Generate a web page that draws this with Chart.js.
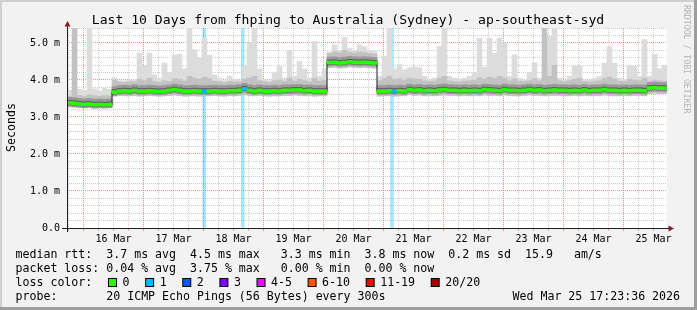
<!DOCTYPE html>
<html>
<head>
<meta charset="utf-8">
<script src="https://cdn.jsdelivr.net/npm/chart.js@4.4.1/dist/chart.umd.min.js"></script>
<style>
  html, body { margin: 0; padding: 0; background: #f2f2f2; }
  canvas { display: block; }
</style>
</head>
<body>
<canvas id="smoke" width="697" height="310"></canvas>
<script>
// --- data: 10 days, one bucket every 2 hours (ms) --- //
const startHour = 17 + 23 / 60 + 36 / 3600; // Sun Mar 15 17:23:36
const stepH = 2;
const yMax = 5.405;

const median = [
  3.38, 3.37, 3.35, 3.34, 3.35, 3.33, 3.34, 3.33, 3.34,
  3.67, 3.70, 3.71, 3.70, 3.72, 3.70, 3.70, 3.71, 3.70, 3.69,
  3.70, 3.72, 3.74, 3.72, 3.70, 3.70, 3.71, 3.70, 3.70, 3.70,
  3.71, 3.70, 3.70, 3.71, 3.71, 3.72, 3.76, 3.72, 3.70, 3.72,
  3.70, 3.70, 3.71, 3.70, 3.72, 3.72, 3.73, 3.73, 3.71, 3.72,
  3.70, 3.70, 3.70,
  4.47, 4.48, 4.46, 4.47, 4.49, 4.48, 4.47, 4.48, 4.47, 4.46,
  3.70, 3.70, 3.71, 3.70, 3.71, 3.70, 3.74, 3.72, 3.73, 3.71,
  3.72, 3.71, 3.73, 3.74, 3.72, 3.72, 3.71, 3.72, 3.71, 3.72,
  3.71, 3.74, 3.73, 3.72, 3.71, 3.74, 3.72, 3.72, 3.71, 3.72,
  3.74, 3.72, 3.73, 3.71, 3.72, 3.73,
  3.72, 3.72, 3.71, 3.72, 3.71, 3.73, 3.71, 3.72, 3.72, 3.74,
  3.72, 3.72, 3.71, 3.72, 3.71, 3.72, 3.72, 3.71,
  3.78, 3.79, 3.78, 3.78
];

const smokeLow = [
  3.27, 3.26, 3.27, 3.25, 3.26, 3.24, 3.25, 3.25, 3.26,
  3.56, 3.58, 3.57, 3.57, 3.58, 3.56, 3.57, 3.58, 3.57, 3.56,
  3.57, 3.58, 3.59, 3.58, 3.56, 3.57, 3.57, 3.56, 3.57, 3.57,
  3.58, 3.57, 3.56, 3.58, 3.57, 3.58, 3.60, 3.58, 3.57, 3.58,
  3.57, 3.56, 3.57, 3.57, 3.58, 3.58, 3.59, 3.58, 3.57, 3.58,
  3.56, 3.57, 3.57,
  4.33, 4.34, 4.32, 4.33, 4.35, 4.34, 4.33, 4.34, 4.33, 4.32,
  3.56, 3.57, 3.57, 3.56, 3.57, 3.57, 3.60, 3.58, 3.59, 3.57,
  3.58, 3.57, 3.58, 3.59, 3.58, 3.58, 3.57, 3.58, 3.57, 3.58,
  3.57, 3.59, 3.58, 3.58, 3.57, 3.59, 3.58, 3.57, 3.57, 3.58,
  3.59, 3.58, 3.58, 3.57, 3.58, 3.58,
  3.58, 3.57, 3.57, 3.58, 3.57, 3.58, 3.57, 3.58, 3.57, 3.59,
  3.58, 3.57, 3.57, 3.58, 3.57, 3.58, 3.58, 3.57,
  3.63, 3.64, 3.63, 3.63
];

const smokeHigh = [
  3.56, 5.40, 3.58, 3.55, 3.60, 3.57, 3.56, 3.58, 3.57,
  4.00, 3.95, 3.93, 3.96, 3.95, 4.02, 3.98, 4.05, 3.96, 3.94,
  3.98, 3.96, 4.04, 4.02, 3.97, 4.10, 4.05, 4.02, 4.08, 4.04,
  3.97, 3.95, 3.94, 3.96, 3.95, 3.95, 4.02, 4.06, 4.10, 3.98,
  3.95, 3.94, 3.98, 4.00, 3.96, 4.05, 3.97, 4.02, 3.98, 3.95,
  4.05, 3.97, 4.00,
  4.72, 4.76, 4.74, 4.80, 4.75, 4.73, 4.76, 4.74, 4.72, 4.70,
  3.98, 4.05, 4.10, 4.02, 4.04, 4.00, 4.05, 4.03, 4.02, 3.98,
  3.96, 3.97, 4.05, 4.10, 3.98, 3.96, 3.95, 3.97, 3.98, 4.00,
  4.06, 4.02, 4.08, 4.04, 4.10, 4.05, 3.98, 4.03, 3.97, 3.96,
  3.98, 4.04, 3.98, 5.40, 4.10, 4.40,
  3.98, 3.96, 3.98, 4.02, 4.04, 3.96, 3.95, 3.97, 3.98, 4.04,
  4.08, 4.02, 3.97, 3.96, 4.02, 4.00, 3.98, 4.05,
  3.97, 4.00, 3.98, 3.97
];

const smokeMax = [
  3.72, 5.40, 3.75, 3.72, 5.40, 3.76, 3.70, 3.78, 3.75,
  4.06, 3.98, 3.98, 4.00, 4.02, 4.73, 4.40, 4.73, 4.14, 4.05,
  4.46, 4.20, 4.67, 4.70, 4.30, 5.40, 4.82, 4.60, 5.13, 4.67,
  4.14, 4.05, 3.98, 4.10, 4.02, 4.00, 4.37, 5.00, 5.40, 4.30,
  4.02, 3.98, 4.20, 4.37, 4.05, 4.80, 4.10, 4.50, 4.30, 4.05,
  5.04, 4.10, 4.32,
  4.75, 4.95, 4.80, 5.15, 4.85, 4.80, 4.95, 4.90, 4.80, 4.78,
  4.10, 4.64, 5.40, 4.30, 4.42, 4.28, 4.33, 4.35, 4.33, 4.10,
  4.00, 4.05, 4.91, 5.40, 4.10, 4.05, 4.02, 4.05, 4.10, 4.20,
  5.13, 4.35, 5.13, 4.72, 5.13, 5.00, 4.10, 4.68, 4.05, 4.02,
  4.20, 4.47, 4.05, 5.40, 5.18, 5.40,
  4.05, 4.00, 4.10, 4.37, 4.40, 4.02, 4.00, 4.05, 4.10, 4.45,
  4.90, 4.45, 4.05, 4.02, 4.40, 4.37, 4.10, 5.09,
  4.10, 4.70, 4.30, 4.40
];

// hours after start where 1/20 pings were lost
const lossTimes = [54.9, 70.3, 130.0];

const lossLabels = ['0', '1', '2', '3', '4-5', '6-10', '11-19', '20/20'];
const lossColors = ['#26ff00', '#00b8ff', '#0059ff', '#7e00ff', '#ff00ff', '#ff5500', '#ff0000', '#a10000'];

const title = 'Last 10 Days from fhping to Australia (Sydney) - ap-southeast-syd';
const statLines = [
    'median rtt:  3.7 ms avg  4.5 ms max   3.3 ms min  3.8 ms now  0.2 ms sd  15.9   am/s',
    'packet loss: 0.04 % avg  3.75 % max   0.00 % min  0.00 % now'
];
const probeText = 'probe:       20 ICMP Echo Pings (56 Bytes) every 300s';
const stampText = 'Wed Mar 25 17:23:36 2026';

// --- helpers --- //
const mono = '"DejaVu Sans Mono"';
const stepLine = arr => arr.map((v, i) => ({ x: i * stepH, y: v }))
    .concat([{ x: arr.length * stepH, y: arr[arr.length - 1] }]);
const band = (lo, hi) => lo.map((v, i) => ({ x: i * stepH + stepH / 2, y: [v, hi[i]] }));
const around = (dn, up) => median.map((v, i) => ({ x: i * stepH + stepH / 2, y: [v - dn, v + up] }));
const hourOfDay = v => Math.round((startHour + v) % 24) % 24;
const isLossBucket = i => lossTimes.some(t => Math.floor(t / stepH) === i);

const barOpts = {
    type: 'bar',
    barPercentage: 1,
    categoryPercentage: 1,
    grouped: false,
    borderWidth: 0,
    borderSkipped: false
};

// --- frame, axes and texts drawn around the plot --- //
const rrdFrame = {
    id: 'rrdFrame',
    beforeDraw(chart) {
        const { ctx, chartArea: a, width, height } = chart;
        ctx.save();
        ctx.fillStyle = '#f2f2f2';
        ctx.fillRect(0, 0, width, height);
        ctx.fillStyle = '#cfcfcf';
        ctx.fillRect(0, 0, width, 2);
        ctx.fillRect(0, 0, 2, height);
        ctx.fillStyle = '#9e9e9e';
        ctx.fillRect(0, height - 3, width, 3);
        ctx.fillRect(width - 3, 0, 3, height);
        ctx.fillStyle = '#ffffff';
        ctx.fillRect(a.left, a.top, a.right - a.left, a.bottom - a.top);
        ctx.restore();
    },
    afterDraw(chart) {
        const { ctx, chartArea: a } = chart;
        ctx.save();

        // axes
        ctx.strokeStyle = '#1f1f1f';
        ctx.lineWidth = 1;
        ctx.beginPath();
        ctx.moveTo(a.left - 5, a.bottom + 0.5);
        ctx.lineTo(a.right + 2, a.bottom + 0.5);
        ctx.moveTo(a.left + 0.5, a.bottom + 4);
        ctx.lineTo(a.left + 0.5, a.top - 2);
        ctx.stroke();

        ctx.fillStyle = '#801f1f';
        ctx.beginPath();
        ctx.moveTo(a.left + 0.5, a.top - 7);
        ctx.lineTo(a.left - 2.5, a.top - 1.5);
        ctx.lineTo(a.left + 3.5, a.top - 1.5);
        ctx.fill();
        ctx.beginPath();
        ctx.moveTo(a.right + 7, a.bottom + 0.5);
        ctx.lineTo(a.right + 1.5, a.bottom - 2.5);
        ctx.lineTo(a.right + 1.5, a.bottom + 3.5);
        ctx.fill();

        // title
        ctx.fillStyle = '#000';
        ctx.textBaseline = 'alphabetic';
        ctx.textAlign = 'center';
        ctx.font = '13.1px ' + mono;
        ctx.fillText(title, 348, 24);

        // y axis title
        ctx.font = '11.6px ' + mono;
        ctx.save();
        ctx.translate(15, 127.5);
        ctx.rotate(-Math.PI / 2);
        ctx.fillText('Seconds', 0, 0);
        ctx.restore();

        // watermark
        ctx.save();
        ctx.fillStyle = '#b4b4b4';
        ctx.font = '8.2px ' + mono;
        ctx.textAlign = 'left';
        ctx.translate(683.5, 5);
        ctx.rotate(Math.PI / 2);
        ctx.fillText('RRDTOOL / TOBI OETIKER', 0, 0);
        ctx.restore();

        // legend
        ctx.textAlign = 'left';
        ctx.font = '11.6px ' + mono;
        statLines.forEach((line, i) => ctx.fillText(line, 15.5, 258 + i * 14));
        ctx.fillText('loss color:', 15.5, 286);
        let bx = 108;
        lossLabels.forEach((lab, i) => {
            ctx.fillStyle = '#000';
            ctx.fillRect(bx, 278, 9, 9);
            ctx.fillStyle = lossColors[i];
            ctx.fillRect(bx + 1, 279, 7, 7);
            ctx.fillStyle = '#000';
            ctx.fillText(lab, bx + 14.5, 286);
            bx += 14.5 + ctx.measureText(lab).width + 15.65;
        });
        ctx.fillText(probeText, 15.5, 300);
        ctx.fillText(stampText, 512.5, 300);

        ctx.restore();
    }
};

Chart.defaults.font.family = mono;

new Chart(document.getElementById('smoke'), {
    type: 'bar',
    data: {
        datasets: [
            {
                type: 'bar',
                xAxisID: 'xl',
                data: lossTimes.map(t => ({ x: t, y: [0, yMax] })),
                backgroundColor: 'rgba(0, 184, 255, 0.35)',
                barThickness: 3,
                grouped: false,
                borderWidth: 0,
                order: 9
            },
            { ...barOpts, data: band(smokeHigh, smokeMax), backgroundColor: '#dcdcdc', order: 8 },
            { ...barOpts, data: band(smokeLow, smokeHigh), backgroundColor: '#c2c2c2', order: 7 },
            { ...barOpts, data: around(0.09, 0.15), backgroundColor: '#999999', order: 6 },
            { ...barOpts, data: around(0.05, 0.07), backgroundColor: '#5e5e5e', order: 5 },
            {
                type: 'line',
                data: stepLine(median),
                stepped: true,
                borderColor: '#202020',
                borderWidth: 1,
                pointRadius: 0,
                fill: false,
                order: 4
            },
            {
                ...barOpts,
                data: around(0.04, 0.04),
                backgroundColor: ctx => isLossBucket(ctx.dataIndex) ? lossColors[1] : lossColors[0],
                order: 3
            }
        ]
    },
    options: {
        responsive: false,
        animation: false,
        events: [],
        layout: { padding: { top: 28, right: 30, left: 0, bottom: 0 } },
        plugins: { legend: { display: false }, tooltip: { enabled: false }, title: { display: false } },
        scales: {
            x: {
                type: 'linear',
                min: 0,
                max: 240,
                offset: false,
                afterFit: s => { s.height = 82; },
                afterBuildTicks: s => {
                    const t = [];
                    for (let h = 6 - startHour % 6; h < 240; h += 6) t.push({ value: h });
                    s.ticks = t;
                },
                ticks: {
                    autoSkip: false,
                    maxRotation: 0,
                    padding: 2,
                    color: '#000',
                    font: { size: 10, family: mono },
                    callback: v => hourOfDay(v) === 12 ? (15 + Math.floor((startHour + v) / 24)) + ' Mar' : ''
                },
                grid: {
                    offset: false,
                    tickLength: 3,
                    color: c => hourOfDay(c.tick.value) === 0 ? 'rgba(222, 79, 79, 0.6)' : 'rgba(143, 143, 143, 0.45)',
                    tickColor: c => hourOfDay(c.tick.value) === 0 ? 'rgba(222, 79, 79, 0.6)' : 'rgba(143, 143, 143, 0.6)'
                },
                border: { display: false, dash: [1, 1] }
            },
            xl: { type: 'linear', min: 0, max: 240, offset: false, display: false, grid: { offset: false } },
            y: {
                type: 'linear',
                min: 0,
                max: yMax,
                afterFit: s => { s.width = 67; },
                afterBuildTicks: s => {
                    const t = [];
                    for (let k = 0; k * 0.2 <= yMax; k++) t.push({ value: Math.round(k * 2) / 10 });
                    s.ticks = t;
                },
                ticks: {
                    autoSkip: false,
                    padding: 7,
                    color: '#000',
                    font: { size: 10, family: mono },
                    callback: v => Math.abs(v - Math.round(v)) < 1e-6 ? (v === 0 ? '0.0' : v.toFixed(1) + ' m') : ''
                },
                grid: {
                    drawTicks: false,
                    color: c => Math.abs(c.tick.value - Math.round(c.tick.value)) < 1e-6 ? 'rgba(222, 79, 79, 0.6)' : 'rgba(143, 143, 143, 0.45)'
                },
                border: { display: false, dash: [1, 1] }
            }
        }
    },
    plugins: [rrdFrame]
});
</script>
</body>
</html>
